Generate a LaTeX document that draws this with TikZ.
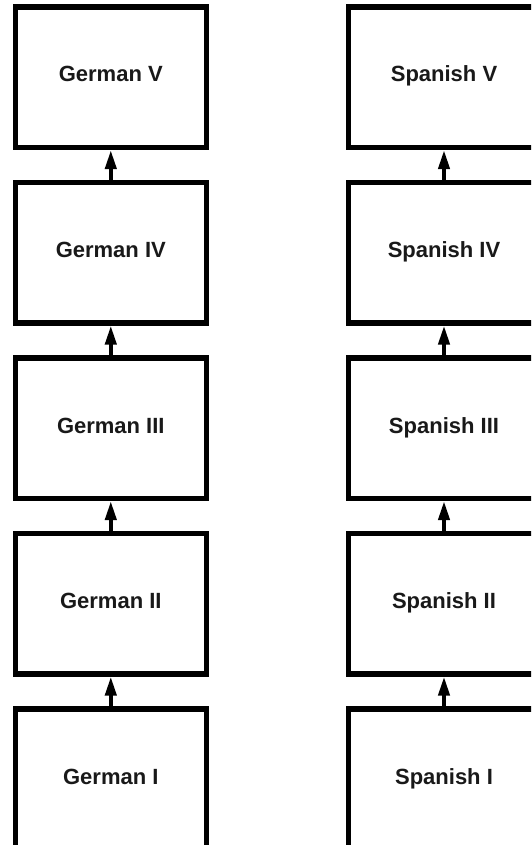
\documentclass[tikz,border=0pt]{standalone}
\usepackage{fontspec}
\setmainfont{Liberation Sans}
\usetikzlibrary{arrows.meta}
\tikzset{
  course/.style={draw=black, line width=5.3pt, minimum width=191.3pt, minimum height=140.4pt,
    inner sep=0pt, text height=16pt, text depth=6.4pt,
    font=\fontsize{22}{26}\selectfont\bfseries, text=black!90},
  prereq/.style={line width=4pt, -{Triangle[width=11pt,length=19pt]}}
}
\begin{document}
\begin{tikzpicture}[x=1pt,y=1pt]
\useasboundingbox (0,-845) rectangle (531,0);
\clip (0,-845) rectangle (531,0);
\fill[white] (0,-845) rectangle (531,0);
\node[course] (g5) at (110.8,-77.2) {German V};
\node[course] (g4) at (110.8,-252.7) {German IV};
\node[course] (g3) at (110.8,-428.2) {German III};
\node[course] (g2) at (110.8,-603.7) {German II};
\node[course] (g1) at (110.8,-779.2) {German I};
\node[course] (s5) at (444,-77.2) {Spanish V};
\node[course] (s4) at (444,-252.7) {Spanish IV};
\node[course] (s3) at (444,-428.2) {Spanish III};
\node[course] (s2) at (444,-603.7) {Spanish II};
\node[course] (s1) at (444,-779.2) {Spanish I};
\draw[prereq] (g1.north) -- (g2.south);
\draw[prereq] (g2.north) -- (g3.south);
\draw[prereq] (g3.north) -- (g4.south);
\draw[prereq] (g4.north) -- (g5.south);
\draw[prereq] (s1.north) -- (s2.south);
\draw[prereq] (s2.north) -- (s3.south);
\draw[prereq] (s3.north) -- (s4.south);
\draw[prereq] (s4.north) -- (s5.south);
\end{tikzpicture}
\end{document}
